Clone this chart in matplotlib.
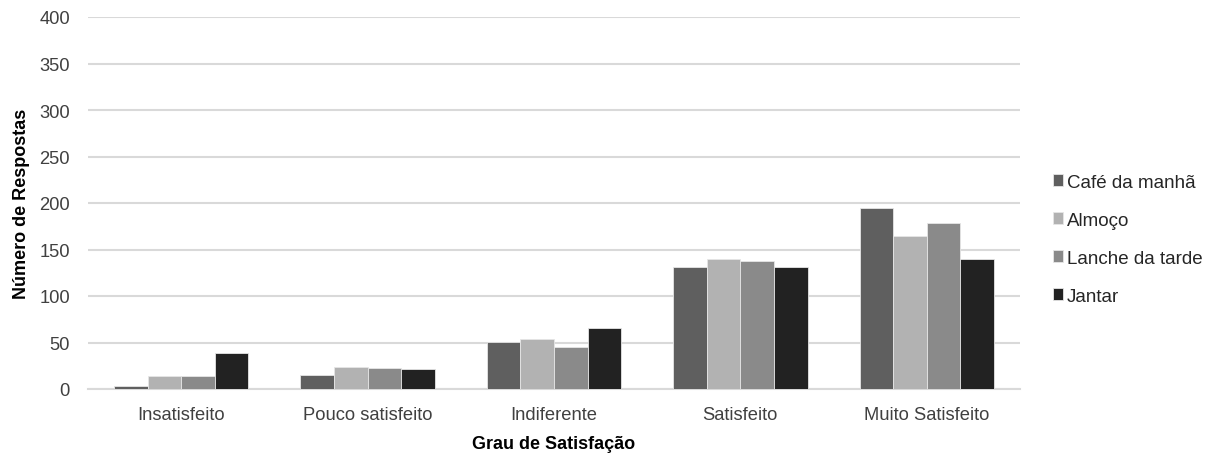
import matplotlib
matplotlib.use("Agg")
import matplotlib.pyplot as plt
import numpy as np

categories = ["Insatisfeito", "Pouco satisfeito", "Indiferente", "Satisfeito", "Muito Satisfeito"]
series_names = ["Café da manhã", "Almoço", "Lanche da tarde", "Jantar"]
cafe = [3, 15, 51, 131, 195]
almoco = [14, 24, 54, 140, 164]
lanche = [14, 23, 45, 138, 179]
jantar = [39, 21, 66, 131, 140]
colors = ["#5f5f5f", "#b2b2b2", "#8a8a8a", "#222222"]
yticks = [0, 50, 100, 150, 200, 250, 300, 350, 400]

plt.rcParams['font.family'] = ['Liberation Sans', 'DejaVu Sans']

fig = plt.figure(figsize=(12.14, 4.56), dpi=100)
ax = fig.add_axes([88/1214, 1-390/456, (1020-88)/1214, (390-18)/456])

x = np.arange(len(categories))
bw = 0.18
data = [cafe, almoco, lanche, jantar]
for i, (vals, name, c) in enumerate(zip(data, series_names, colors)):
    ax.bar(x + (i - 1.5) * bw, vals, bw, color=c, label=name,
           edgecolor="#e6e6e6", linewidth=0.6, zorder=3)

ax.set_xlim(-0.5, len(categories) - 0.5)
ax.set_ylim(0, 400)
ax.set_yticks(yticks)
ax.set_xticks(x)
ax.set_xticklabels(categories, fontsize=13.2, color="#404040")
ax.tick_params(axis='y', labelsize=13.2, labelcolor="#404040", length=0, pad=13)
ax.tick_params(axis='x', length=0, pad=12)
ax.grid(axis='y', color="#d9d9d9", linewidth=1.5, zorder=0)
for s in ["top", "right", "left"]:
    ax.spines[s].set_visible(False)
ax.spines["bottom"].set_color("#d9d9d9")
ax.spines["bottom"].set_linewidth(1.5)

ax.set_ylabel("Número de Respostas", fontsize=13, fontweight="bold", labelpad=7)
ax.set_xlabel("Grau de Satisfação", fontsize=13, fontweight="bold", labelpad=9)

ax.legend(loc="center left", bbox_to_anchor=(1.0355, 0.403), frameon=False,
          fontsize=13.5, handlelength=0.55, handleheight=0.55, handletextpad=0.2,
          labelspacing=1.12, borderpad=0, borderaxespad=0)
for t in ax.get_legend().get_texts():
    t.set_color("#262626")

fig.savefig("out.png", dpi=100)
